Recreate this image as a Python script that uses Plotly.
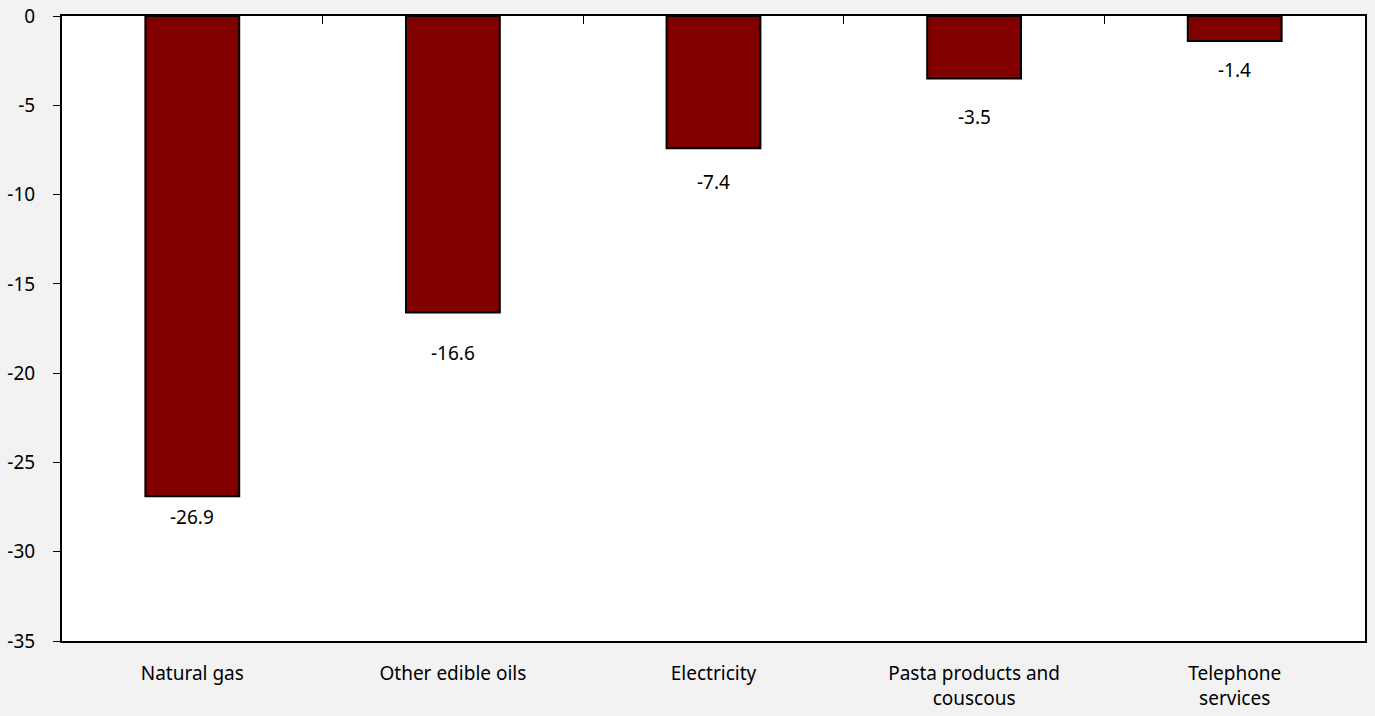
import plotly.graph_objects as go

categories = ["Natural gas", "Other edible oils", "Electricity", "Pasta products and<br>couscous", "Telephone<br>services"]
values = [-26.9, -16.6, -7.4, -3.5, -1.4]
y_ticks = [0, -5, -10, -15, -20, -25, -30, -35]
label_offsets_px = [21, 41, 34, 38, 29]  # distance of value label below bar end

FONT = "Noto Sans"
xs = list(range(len(categories)))
fig = go.Figure()
fig.add_trace(go.Bar(
    x=xs, y=values, width=0.36,
    marker=dict(color="#800000", line=dict(color="black", width=2)),
    hoverinfo="skip",
))
# invisible trace to activate top axis for boundary ticks
fig.add_trace(go.Scatter(x=[xs[0]], y=[0], xaxis="x2", mode="markers",
                         marker=dict(opacity=0), showlegend=False, hoverinfo="skip"))

for x, v, off in zip(xs, values, label_offsets_px):
    fig.add_annotation(x=x, y=v, text=f"{v:.1f}", showarrow=False,
                       yshift=-off, font=dict(size=19, color="black", family=FONT))

fig.update_layout(
    width=1375, height=716,
    paper_bgcolor="#f2f2f2", plot_bgcolor="white",
    margin=dict(l=62, r=10, t=16, b=75, autoexpand=False),
    showlegend=False,
    font=dict(family=FONT, size=19, color="black"),
    xaxis=dict(
        tickvals=xs, ticktext=categories, range=[-0.5, len(categories) - 0.5],
        showline=True, linecolor="black", linewidth=2, mirror=True,
        ticks="", showgrid=False, zeroline=False, automargin=False,
        ticklabelstandoff=14, tickfont=dict(size=19),
    ),
    xaxis2=dict(
        overlaying="x", side="top", matches="x", range=[-0.5, len(categories) - 0.5],
        tickvals=[i + 0.5 for i in xs[:-1]], ticks="inside", ticklen=8,
        tickcolor="black", tickwidth=1, showticklabels=False, showgrid=False,
        zeroline=False, showline=False, automargin=False,
    ),
    yaxis=dict(
        range=[-35, 0], tickvals=y_ticks, ticktext=[str(v) for v in y_ticks],
        showline=True, linecolor="black", linewidth=2, mirror=True,
        ticks="outside", ticklen=7, tickcolor="black", showgrid=False,
        zeroline=False, automargin=False, ticklabelstandoff=14,
        tickfont=dict(size=19),
    ),
)
fig.write_html("out.html", config={"displayModeBar": False},
               post_script="document.body.style.margin='0';")
